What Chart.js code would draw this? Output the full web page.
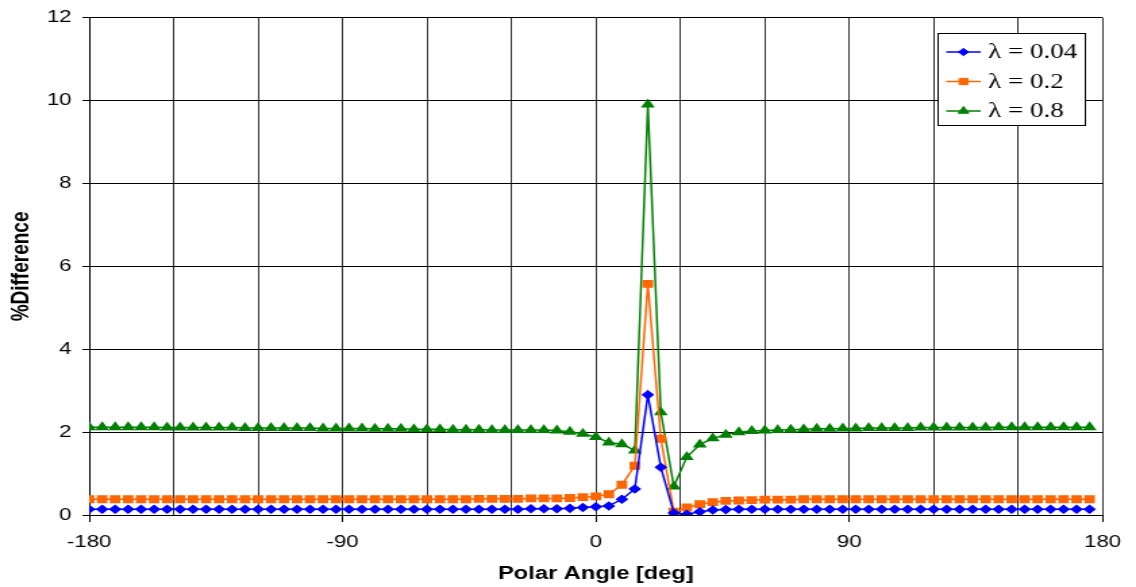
<!DOCTYPE html>
<html lang="en">
<head>
    <meta charset="UTF-8">
    <title>% Difference vs Polar Angle</title>
    <script src="https://cdn.jsdelivr.net/npm/chart.js"></script>
    <style>
        body {
            margin: 0;
            padding: 0;
            background-color: #fff;
            overflow: hidden;
        }
        /* chart is drawn narrow and widened to the page, like the original figure */
        .stretch {
            width: 841px;
            height: 587px;
            transform: scaleX(1.3508);
            transform-origin: 0 0;
        }
        canvas {
            display: block;
        }
    </style>
</head>
<body>

    <div class="stretch">
        <canvas id="diffChart" width="841" height="587"></canvas>
    </div>

    <script>
        // polar angles [deg], 78 samples over one turn
        const angles = [
            -180, -175.38, -170.77, -166.15, -161.54, -156.92, -152.31, -147.69, -143.08, -138.46,
            -133.85, -129.23, -124.62, -120, -115.38, -110.77, -106.15, -101.54, -96.92, -92.31,
            -87.69, -83.08, -78.46, -73.85, -69.23, -64.62, -60, -55.38, -50.77, -46.15,
            -41.54, -36.92, -32.31, -27.69, -23.08, -18.46, -13.85, -9.23, -4.62, 0,
            4.62, 9.23, 13.85, 18.46, 23.08, 27.69, 32.31, 36.92, 41.54, 46.15,
            50.77, 55.38, 60, 64.62, 69.23, 73.85, 78.46, 83.08, 87.69, 92.31,
            96.92, 101.54, 106.15, 110.77, 115.38, 120, 124.62, 129.23, 133.85, 138.46,
            143.08, 147.69, 152.31, 156.92, 161.54, 166.15, 170.77, 175.38
        ];

        // % difference, lambda = 0.04
        const diffLam004 = [
            0.14, 0.14, 0.14, 0.14, 0.14, 0.14, 0.14, 0.14, 0.14, 0.14,
            0.14, 0.14, 0.14, 0.14, 0.14, 0.14, 0.14, 0.14, 0.14, 0.14,
            0.14, 0.14, 0.14, 0.14, 0.14, 0.14, 0.14, 0.14, 0.14, 0.14,
            0.14, 0.14, 0.14, 0.14, 0.15, 0.15, 0.15, 0.16, 0.18, 0.20,
            0.22, 0.38, 0.63, 2.90, 1.15, 0.05, 0.02, 0.08, 0.12, 0.13,
            0.14, 0.14, 0.14, 0.14, 0.14, 0.14, 0.14, 0.14, 0.14, 0.14,
            0.14, 0.14, 0.14, 0.14, 0.14, 0.14, 0.14, 0.14, 0.14, 0.14,
            0.14, 0.14, 0.14, 0.14, 0.14, 0.14, 0.14, 0.14
        ];

        // % difference, lambda = 0.2
        const diffLam02 = [
            0.38, 0.38, 0.38, 0.38, 0.38, 0.38, 0.38, 0.38, 0.38, 0.38,
            0.38, 0.38, 0.38, 0.38, 0.38, 0.38, 0.38, 0.38, 0.38, 0.38,
            0.38, 0.38, 0.38, 0.38, 0.38, 0.38, 0.38, 0.38, 0.38, 0.38,
            0.39, 0.39, 0.39, 0.39, 0.40, 0.40, 0.40, 0.41, 0.43, 0.45,
            0.50, 0.73, 1.19, 5.58, 1.84, 0.08, 0.18, 0.26, 0.31, 0.34,
            0.35, 0.36, 0.37, 0.37, 0.37, 0.38, 0.38, 0.38, 0.38, 0.38,
            0.38, 0.38, 0.38, 0.38, 0.38, 0.38, 0.38, 0.38, 0.38, 0.38,
            0.38, 0.38, 0.38, 0.38, 0.38, 0.38, 0.38, 0.38
        ];

        // % difference, lambda = 0.8
        const diffLam08 = [
            2.12, 2.12, 2.12, 2.12, 2.12, 2.12, 2.11, 2.11, 2.11, 2.11,
            2.11, 2.11, 2.10, 2.10, 2.10, 2.10, 2.10, 2.10, 2.09, 2.09,
            2.09, 2.09, 2.08, 2.08, 2.08, 2.07, 2.07, 2.07, 2.06, 2.06,
            2.06, 2.05, 2.05, 2.05, 2.05, 2.05, 2.04, 2.01, 1.96, 1.88,
            1.75, 1.71, 1.56, 9.91, 2.48, 0.69, 1.40, 1.70, 1.85, 1.94,
            2.00, 2.03, 2.04, 2.05, 2.06, 2.07, 2.08, 2.08, 2.09, 2.09,
            2.10, 2.10, 2.10, 2.10, 2.11, 2.11, 2.11, 2.11, 2.11, 2.11,
            2.12, 2.12, 2.12, 2.12, 2.12, 2.12, 2.12, 2.12
        ];

        const seriesLabels = ['\u03BB = 0.04', '\u03BB = 0.2', '\u03BB = 0.8'];
        const xTickLabels = [-180, -90, 0, 90, 180];
        const yTicks = [0, 2, 4, 6, 8, 10, 12];

        const sansFont = "Arial, 'Liberation Sans', sans-serif";

        function toPoints(values) {
            return angles.map((a, i) => ({ x: a, y: values[i] }));
        }

        // legend box drawn inside the plot area, top right
        const insideLegend = {
            id: 'insideLegend',
            afterDraw(chart) {
                const ctx = chart.ctx;
                const boxX = 694.5, boxY = 33.5, boxW = 109, boxH = 92;
                ctx.save();
                ctx.fillStyle = '#fff';
                ctx.fillRect(boxX, boxY, boxW, boxH);
                ctx.strokeStyle = '#000';
                ctx.lineWidth = 1;
                ctx.strokeRect(boxX, boxY, boxW, boxH);

                chart.data.datasets.forEach((ds, i) => {
                    const rowY = 52 + i * 29.5;
                    ctx.strokeStyle = ds.borderColor;
                    ctx.lineWidth = 1.5;
                    ctx.beginPath();
                    ctx.moveTo(700.5, rowY);
                    ctx.lineTo(726, rowY);
                    ctx.stroke();

                    ctx.fillStyle = ds.pointBackgroundColor;
                    ctx.strokeStyle = ds.pointBorderColor;
                    ctx.lineWidth = 1;
                    Chart.helpers.drawPoint(ctx, {
                        pointStyle: ds.pointStyle,
                        radius: ds.pointRadius,
                        borderWidth: 1
                    }, 713.3, rowY);

                    ctx.fillStyle = '#000';
                    ctx.font = "20px 'Liberation Serif', 'Times New Roman', serif";
                    ctx.textAlign = 'left';
                    ctx.textBaseline = 'middle';
                    ctx.fillText(seriesLabels[i], 731.5, rowY + 1);
                });
                ctx.restore();
            }
        };

        const ctx = document.getElementById('diffChart').getContext('2d');

        const diffChart = new Chart(ctx, {
            type: 'line',
            data: {
                datasets: [
                    {
                        label: seriesLabels[0],
                        data: toPoints(diffLam004),
                        borderColor: '#0000ff',
                        backgroundColor: '#0000ff',
                        pointBackgroundColor: '#0000ff',
                        pointBorderColor: '#0000ff',
                        pointStyle: 'rectRot',
                        pointRadius: 3.7,
                        borderWidth: 1.5
                    },
                    {
                        label: seriesLabels[1],
                        data: toPoints(diffLam02),
                        borderColor: '#ff6600',
                        backgroundColor: '#ff6600',
                        pointBackgroundColor: '#ff6600',
                        pointBorderColor: '#ff6600',
                        pointStyle: 'rect',
                        pointRadius: 4.5,
                        borderWidth: 1.5
                    },
                    {
                        label: seriesLabels[2],
                        data: toPoints(diffLam08),
                        borderColor: '#008000',
                        backgroundColor: '#008000',
                        pointBackgroundColor: '#008000',
                        pointBorderColor: '#008000',
                        pointStyle: 'triangle',
                        pointRadius: 4.5,
                        borderWidth: 1.5
                    }
                ]
            },
            options: {
                responsive: false,
                animation: false,
                layout: {
                    padding: { top: 12, right: 21, left: 0, bottom: 0 }
                },
                plugins: {
                    legend: { display: false },
                    tooltip: { enabled: false }
                },
                elements: {
                    line: { tension: 0 },
                    point: { borderWidth: 1 }
                },
                scales: {
                    x: {
                        type: 'linear',
                        min: -180,
                        max: 180,
                        afterFit(scale) { scale.height = 72; },
                        ticks: {
                            stepSize: 30,
                            padding: 11,
                            color: '#000',
                            maxRotation: 0,
                            font: { family: sansFont, size: 16.5 },
                            callback: (v) => xTickLabels.includes(v) ? String(v) : ''
                        },
                        grid: {
                            color: '#333',
                            lineWidth: 1,
                            tickLength: 7,
                            tickColor: (c) => (c.tick && xTickLabels.includes(c.tick.value)) ? '#000' : 'rgba(0,0,0,0)'
                        },
                        border: { color: '#000', width: 1 },
                        title: {
                            display: true,
                            text: 'Polar Angle [deg]',
                            color: '#000',
                            padding: { top: 0, bottom: 2 },
                            font: { family: sansFont, size: 17.5, weight: 'bold' }
                        }
                    },
                    y: {
                        min: 0,
                        max: 12,
                        afterFit(scale) { scale.width = 66; },
                        afterBuildTicks(scale) {
                            scale.ticks = yTicks.map(v => ({ value: v }));
                        },
                        ticks: {
                            padding: 8,
                            color: '#000',
                            font: { family: sansFont, size: 16.5 }
                        },
                        grid: {
                            color: '#000',
                            lineWidth: 1,
                            tickLength: 5
                        },
                        border: { color: '#000', width: 1 },
                        title: {
                            display: true,
                            text: '%Difference',
                            color: '#000',
                            padding: { top: 4, bottom: 0 },
                            font: { family: sansFont, size: 19, weight: 'bold' }
                        }
                    }
                }
            },
            plugins: [insideLegend]
        });
    </script>

</body>
</html>
